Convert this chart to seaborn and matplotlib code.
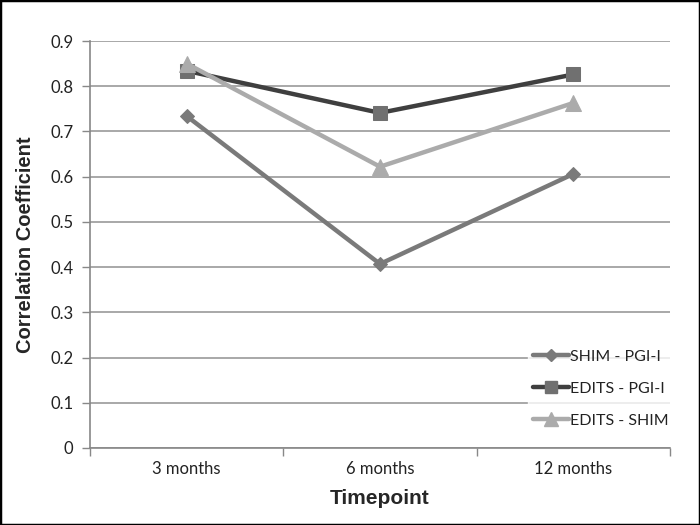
import matplotlib
matplotlib.use("Agg")
import matplotlib.pyplot as plt
import seaborn as sns
import pandas as pd
from matplotlib.lines import Line2D
from matplotlib.patches import Rectangle

timepoints = ["3 months", "6 months", "12 months"]
shim_pgi = [0.734, 0.407, 0.606]
edits_pgi = [0.834, 0.741, 0.826]
edits_shim = [0.850, 0.622, 0.763]
series_names = ["SHIM - PGI-I", "EDITS - PGI-I", "EDITS - SHIM"]
y_ticks = [0, 0.1, 0.2, 0.3, 0.4, 0.5, 0.6, 0.7, 0.8, 0.9]

df = pd.DataFrame({
    "Timepoint": timepoints * 3,
    "pos": [0, 1, 2] * 3,
    "value": shim_pgi + edits_pgi + edits_shim,
    "series": [series_names[0]] * 3 + [series_names[1]] * 3 + [series_names[2]] * 3,
})

sns.set_style("white")
plt.rcParams['font.family'] = ['Lato', 'DejaVu Sans']

fig = plt.figure(figsize=(7, 5.25), dpi=100)
ax = fig.add_axes([90/700, 1 - 448/525, 580/700, 407/525])

line_colors = {"SHIM - PGI-I": "#7a7a7a", "EDITS - PGI-I": "#3f3f3f", "EDITS - SHIM": "#ababab"}
marker_colors = {"SHIM - PGI-I": "#7a7a7a", "EDITS - PGI-I": "#707070", "EDITS - SHIM": "#ababab"}
markers = {"SHIM - PGI-I": "D", "EDITS - PGI-I": "s", "EDITS - SHIM": "^"}
msizes = {"SHIM - PGI-I": 7, "EDITS - PGI-I": 10, "EDITS - SHIM": 11}

for s in series_names:
    sub = df[df.series == s]
    sns.lineplot(data=sub, x="pos", y="value", ax=ax, color=line_colors[s], lw=3.2,
                 marker=markers[s], markersize=msizes[s], markerfacecolor=marker_colors[s],
                 markeredgecolor=marker_colors[s], legend=False, zorder=3)

ax.set_xlim(-0.5, 2.5)
ax.set_ylim(0, 0.9)
ax.set_yticks(y_ticks)
ax.set_yticklabels(["0" if v == 0 else f"{v:.1f}" for v in y_ticks], fontsize=12, color="#222222")
ax.set_xticks([0, 1, 2])
ax.set_xticklabels(timepoints, fontsize=12, color="#222222")
ax.set_xticks([-0.5, 0.5, 1.5, 2.5], minor=True)
ax.tick_params(axis="x", which="major", length=0, pad=9)
ax.tick_params(axis="x", which="minor", length=6, color="#888888", width=1, bottom=True)
ax.tick_params(axis="y", length=6, color="#888888", width=1, left=True, pad=6)
ax.yaxis.grid(True, color="#999999", lw=1.2, zorder=0)
ax.set_axisbelow(True)
for sp in ["top", "right"]:
    ax.spines[sp].set_visible(False)
for sp in ["left", "bottom"]:
    ax.spines[sp].set_color("#888888")
    ax.spines[sp].set_linewidth(1.2)

ax.set_xlabel("Timepoint", fontsize=15, fontweight="bold", family="Liberation Sans", labelpad=9)
ax.set_ylabel("Correlation Coefficient", fontsize=14.5, fontweight="bold", family="Liberation Sans", labelpad=11)

handles = [Line2D([0], [0], color=line_colors[s], lw=3.2, marker=markers[s],
                  markersize=msizes[s] * 0.9, markerfacecolor=marker_colors[s],
                  markeredgecolor=marker_colors[s]) for s in series_names]
leg = ax.legend(handles, series_names, loc="lower right", bbox_to_anchor=(1.02, 0.018),
                frameon=True, fontsize=11.5, handlelength=2.3, handletextpad=0.05,
                labelspacing=1.12, borderpad=0.3)
leg.get_frame().set_facecolor("white")
leg.get_frame().set_edgecolor("white")
for t in leg.get_texts():
    t.set_color("#222222")

fig.patches.append(Rectangle((0, 0), 1, 1, transform=fig.transFigure, fill=False,
                             edgecolor="black", lw=2.5))
fig.savefig("out.png", dpi=100)
